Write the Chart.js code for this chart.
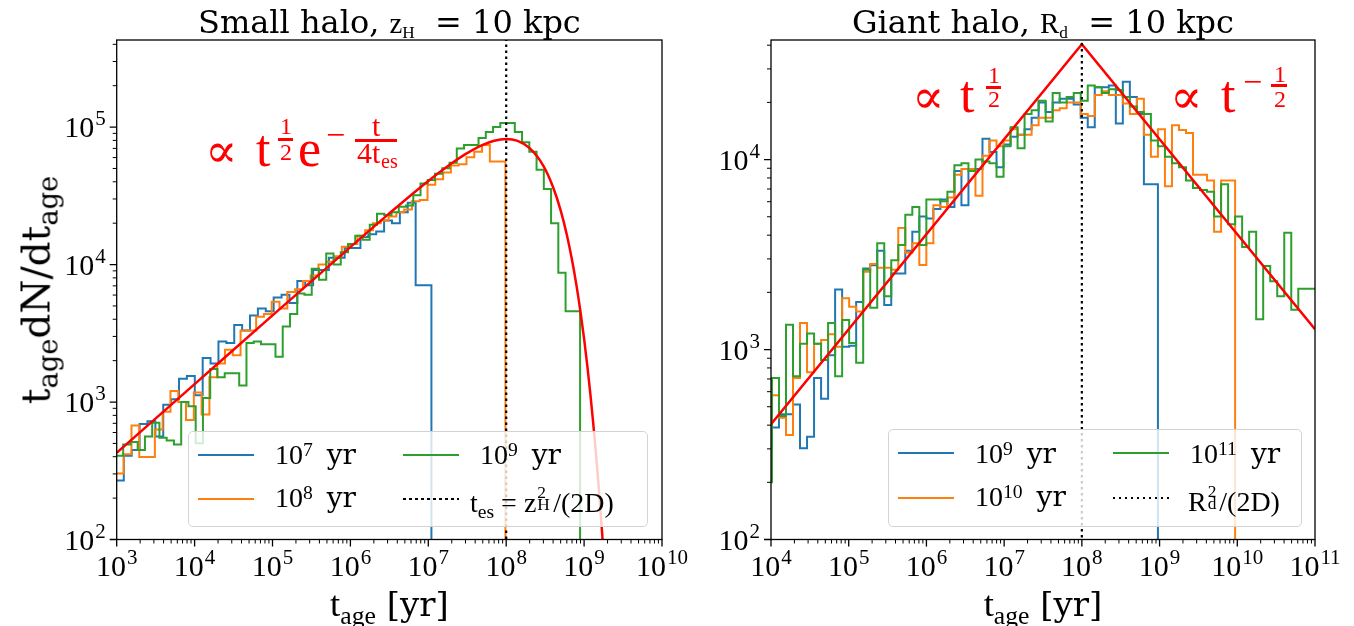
<!DOCTYPE html>
<html>
<head>
<meta charset="utf-8">
<title>Age distributions</title>
<script src="https://cdn.jsdelivr.net/npm/chart.js@4.4.1/dist/chart.umd.min.js"></script>
<style>
  body { margin: 0; background: #fff; }
  #wrap { position: relative; width: 1354px; height: 626px; overflow: hidden; font-family: 'DejaVu Serif', serif; color: #000; }
  canvas { position: absolute; top: 0; }
  .txt { position: absolute; white-space: nowrap; line-height: 1; }
  .m { font-family: 'Liberation Serif', 'DejaVu Serif', serif; }
  .sb { font-size: 0.7em; position: relative; top: 0.3em; }
  .sp { font-size: 0.7em; position: relative; top: -0.45em; }
  .red { color: #ff0000; }
  .box { position: absolute; border: 1px solid #d3d3d3; border-radius: 5px; background: rgba(255,255,255,0.8); box-sizing: border-box; }
  .swatch { position: absolute; width: 56px; height: 2px; }
  .dots { background: repeating-linear-gradient(90deg, #000 0 2.5px, transparent 2.5px 6px); }
  .bar { position: absolute; background: #ff0000; height: 2.5px; }
</style>
</head>
<body>
<div id="wrap">
  <canvas id="leftChart" width="720" height="626" style="left:0"></canvas>
  <canvas id="rightChart" width="677" height="626" style="left:677px"></canvas>
</div>
<script>
// histograms: log10 of first bin edge, bin width in dex, and counts per bin
const leftBlueStart = 2.99, leftBlueWidth = 0.10125;
const leftBlue = [195, 269, 407, 447, 692, 724, 562, 955, 1047, 1479, 1549, 1122, 2089, 1905, 2754,
  2692, 3631, 3311, 4266, 4786, 4571, 5754, 6026, 5248, 7586, 7079, 9120, 9120, 11220, 11220,
  13180, 13180, 15850, 16600, 17380, 20890, 19950, 23990, 28180, 7079];

const leftOrangeStart = 2.99, leftOrangeWidth = 0.1;
const leftOrange = [135, 302, 417, 676, 398, 398, 631, 851, 1202, 1000, 741, 1175, 813, 1514, 1905,
  2399, 2188, 3311, 3311, 4169, 4365, 5370, 4786, 6310, 6607, 7586, 8318, 10000, 10470, 11480,
  13490, 14130, 16220, 17780, 19950, 20890, 22390, 23990, 25120, 28840, 29510, 38020, 41690, 46770, 52480,
  53700, 60260, 66070, 74130, 56230];

const leftGreenStart = 2.99, leftGreenWidth = 0.0931;
const leftGreen = [224, 407, 490, 513, 447, 562, 708, 550, 525, 490, 1000, 933, 501, 1072, 1738,
  1514, 1622, 1622, 1318, 2692, 2754, 2630, 2630, 2138, 3548, 4365, 6166, 6026, 9333, 7762,
  12020, 10000, 12300, 14130, 16220, 15140, 19500, 23440, 22910, 23990, 26300, 26920, 31990, 38900, 41210,
  45710, 50120, 54950, 69980, 74130, 74130, 83180, 92260, 100000, 107200, 107200, 92260, 77620, 66070, 48980,
  35480, 19950, 8710, 4571];

const rightStart = 3.922, rightWidth = 0.0903;
const rightBlue = [389, 309, 389, 457, 457, 513, 302, 347, 708, 550, 933, 2070, 1035, 1047, 1778,
  2673, 2780, 3311, 1714, 2512, 2512, 3311, 4169, 5012, 4898, 5495, 6166, 5623, 8710, 5754,
  8710, 8913, 12880, 10960, 9120, 12020, 13180, 13490, 14450, 16600, 19950, 17780, 19950, 20890, 20890,
  19500, 16600, 14790, 23990, 23990, 24550, 15490, 25700, 21380, 17380, 7413];
const rightOrange = [389, 389, 575, 437, 355, 708, 1380, 759, 1072, 1122, 1202, 1035, 1862, 1679, 1585,
  2570, 2818, 2692, 2692, 2630, 4365, 3236, 3631, 2786, 3631, 5754, 5623, 6310, 8318, 8913,
  8913, 6457, 10470, 12590, 11750, 12590, 14450, 13490, 13490, 15140, 16600, 16600, 18200, 18620, 19950,
  19950, 17380, 16980, 21880, 22910, 21880, 21880, 19720, 17380, 20890, 13490, 10350, 14450, 7244, 15140,
  14290, 13800, 8318, 8318, 7762, 4169, 7762];
const rightGreen = [302, 200, 708, 447, 1349, 724, 1072, 1216, 1072, 881, 1380, 724, 1429, 1084, 851,
  2630, 1660, 3631, 1905, 2951, 3548, 5129, 5623, 3548, 6166, 6166, 6026, 6761, 9333, 9550,
  8710, 10000, 9772, 9550, 8128, 11750, 14790, 11480, 17380, 18200, 20420, 15850, 22390, 19950, 21380,
  22390, 20420, 24550, 23990, 22390, 23440, 23230, 21380, 19050, 17780, 17380, 12590, 11750, 10350, 9550,
  9120, 7762, 7079, 6918, 6761, 5012, 7413, 4571, 5012, 3467, 4169, 1445, 2754, 2291, 1905,
  4121, 1622, 2089, 2089];

// red model curves
const leftFitT = [1e3, 1e4, 1e5, 1e6, 3e6, 1e7, 2e7, 3e7, 5e7, 7e7, 1e8, 1.4e8, 2e8, 3e8, 4e8,
  5e8, 6e8, 7e8, 8e8, 9e8, 1e9, 1.1e9, 1.2e9, 1.3e9, 1.4e9, 1.5e9, 1.6e9, 1.7e9, 1.8e9];
const leftFitN = [427, 1350, 4270, 13400, 23000, 40600, 54600, 63600, 74300, 79600, 81900, 79300, 70200, 52200, 36500,
  24800, 16500, 10800, 7000, 4500, 2880, 1830, 1160, 732, 461, 289, 181, 113, 71];
const rightFitT = [1e4, 1e8, 1e11];
const rightFitN = [405, 40500, 1280];

const tEs = 1e8;          // t_es = z_H^2/(2D)
const tDiff = 1e8;        // R_d^2/(2D)

const leftXTicks = [1e3, 1e4, 1e5, 1e6, 1e7, 1e8, 1e9, 1e10];
const leftYTicks = [1e2, 1e3, 1e4, 1e5];
const rightXTicks = [1e4, 1e5, 1e6, 1e7, 1e8, 1e9, 1e10, 1e11];
const rightYTicks = [1e2, 1e3, 1e4];

const BLUE = '#1f77b4', ORANGE = '#ff7f0e', GREEN = '#2ca02c', RED = '#ff0000';
const BASE = 1;   // below the y range, so edges drop off the axes

function stepPoints(start, width, vals) {
  const pts = [{ x: Math.pow(10, start), y: BASE }];
  vals.forEach((v, i) => pts.push({ x: Math.pow(10, start + i * width), y: v }));
  const end = Math.pow(10, start + vals.length * width);
  pts.push({ x: end, y: vals[vals.length - 1] }, { x: end, y: BASE });
  return pts;
}

function pairs(xs, ys) {
  return xs.map((x, i) => ({ x: x, y: ys[i] }));
}

function histSet(pts, color, order) {
  return { data: pts, borderColor: color, borderWidth: 2, stepped: 'after', pointRadius: 0, fill: false, order: order };
}

function minors(min, max) {
  const out = [];
  for (let d = Math.floor(Math.log10(min)); d <= Math.ceil(Math.log10(max)); d++) {
    for (let m = 2; m <= 9; m++) {
      const v = m * Math.pow(10, d);
      if (v >= min && v <= max) out.push(v);
    }
  }
  return out;
}

function powLabel(ctx, v, x, y, align) {
  const exp = String(Math.round(Math.log10(v)));
  ctx.font = '30px "Liberation Serif"';
  const w1 = ctx.measureText('10').width;
  ctx.font = '21px "Liberation Serif"';
  const w2 = ctx.measureText(exp).width;
  const total = w1 + 1 + w2;
  const left = align === 'center' ? x - total / 2 : x - total;
  ctx.font = '30px "Liberation Serif"';
  ctx.fillText('10', left, y);
  ctx.font = '21px "Liberation Serif"';
  ctx.fillText(exp, left + w1 + 1, y - 12);
}

// frame, tick marks and tick labels, placed through the chart's scales
function decor(xTicks, yTicks) {
  return {
    id: 'decor',
    afterDatasetsDraw(chart) {
      const { ctx, chartArea: a, scales: { x, y } } = chart;
      ctx.save();
      ctx.strokeStyle = '#000';
      ctx.fillStyle = '#000';
      ctx.lineWidth = 1.3;
      ctx.strokeRect(a.left, a.top, a.right - a.left, a.bottom - a.top);

      const tick = (len, width, list, horiz) => {
        ctx.lineWidth = width;
        ctx.beginPath();
        list.forEach(v => {
          if (horiz) {
            const px = x.getPixelForValue(v);
            ctx.moveTo(px, a.bottom); ctx.lineTo(px, a.bottom + len);
          } else {
            const py = y.getPixelForValue(v);
            ctx.moveTo(a.left, py); ctx.lineTo(a.left - len, py);
          }
        });
        ctx.stroke();
      };
      tick(7, 1.3, xTicks, true);
      tick(4, 1.0, minors(x.min, x.max), true);
      tick(7, 1.3, yTicks, false);
      tick(4, 1.0, minors(y.min, y.max), false);

      ctx.textBaseline = 'alphabetic';
      ctx.textAlign = 'left';
      xTicks.forEach(v => powLabel(ctx, v, x.getPixelForValue(v), a.bottom + 36, 'center'));
      yTicks.forEach(v => powLabel(ctx, v, a.left - 11, y.getPixelForValue(v) + 10, 'right'));
      ctx.restore();
    }
  };
}

function makeChart(id, datasets, xr, yr, yWidth, padRight, xTicks, yTicks) {
  return new Chart(document.getElementById(id), {
    type: 'line',
    data: { datasets: datasets },
    options: {
      responsive: false,
      animation: false,
      events: [],
      layout: { padding: { left: 0, right: padRight, top: 40, bottom: 0 } },
      plugins: { legend: { display: false }, tooltip: { enabled: false } },
      elements: { point: { radius: 0 } },
      scales: {
        x: {
          type: 'logarithmic', min: xr[0], max: xr[1],
          grid: { display: false }, border: { display: false }, ticks: { display: false },
          afterFit: s => { s.height = 86.5; }
        },
        y: {
          type: 'logarithmic', min: yr[0], max: yr[1],
          grid: { display: false }, border: { display: false }, ticks: { display: false },
          afterFit: s => { s.width = yWidth; }
        }
      }
    },
    plugins: [decor(xTicks, yTicks)]
  });
}

makeChart('leftChart', [
  { data: [{ x: tEs, y: 10 }, { x: tEs, y: 1e7 }], borderColor: '#000', borderWidth: 2.2, borderDash: [2.5, 3.5], pointRadius: 0, order: 0 },
  { data: pairs(leftFitT, leftFitN), borderColor: RED, borderWidth: 2.5, cubicInterpolationMode: 'monotone', pointRadius: 0, order: 1 },
  histSet(stepPoints(leftGreenStart, leftGreenWidth, leftGreen), GREEN, 2),
  histSet(stepPoints(leftOrangeStart, leftOrangeWidth, leftOrange), ORANGE, 3),
  histSet(stepPoints(leftBlueStart, leftBlueWidth, leftBlue), BLUE, 4)
], [1e3, 1e10], [100, 4.3e5], 116.7, 58, leftXTicks, leftYTicks);

makeChart('rightChart', [
  { data: [{ x: tDiff, y: 10 }, { x: tDiff, y: 1e7 }], borderColor: '#000', borderWidth: 2.2, borderDash: [2.5, 3.5], pointRadius: 0, order: 0 },
  { data: pairs(rightFitT, rightFitN), borderColor: RED, borderWidth: 2.5, pointRadius: 0, order: 1 },
  histSet(stepPoints(rightStart, rightWidth, rightGreen), GREEN, 2),
  histSet(stepPoints(rightStart, rightWidth, rightOrange), ORANGE, 3),
  histSet(stepPoints(rightStart, rightWidth, rightBlue), BLUE, 4)
], [1e4, 1e11], [100, 4.26e4], 94, 39, rightXTicks, rightYTicks);

// ---- text overlays ----
const wrap = document.getElementById('wrap');

function put(html, x, base, size, opt) {
  opt = opt || {};
  const d = document.createElement('div');
  d.className = 'txt' + (opt.cls ? ' ' + opt.cls : '');
  d.style.fontSize = size + 'px';
  d.style.left = x + 'px';
  d.style.top = (base - 0.84 * size) + 'px';
  if (opt.center) d.style.transform = 'translateX(-50%)';
  d.innerHTML = html;
  wrap.appendChild(d);
  return d;
}

function el(cls, left, top, w, h, bg) {
  const d = document.createElement('div');
  d.className = cls;
  d.style.left = left + 'px';
  d.style.top = top + 'px';
  if (w != null) d.style.width = w + 'px';
  if (h != null) d.style.height = h + 'px';
  if (bg) d.style.background = bg;
  wrap.appendChild(d);
  return d;
}

function supsub(sup, sub, w) {
  return '<span style="display:inline-block;position:relative;width:' + w + 'em;height:1em">' +
    '<span style="position:absolute;left:1px;top:-0.05em;font-size:0.62em">' + sup + '</span>' +
    '<span style="position:absolute;left:1px;top:0.66em;font-size:0.62em">' + sub + '</span></span>';
}

function pow(e) {
  return '<span class="m">10<span class="sp">' + e + '</span></span><span style="margin-left:14px">yr</span>';
}

// titles
put('Small halo, <span class="m" style="font-size:0.9em">z<span class="sb" style="font-size:0.6em">H</span></span>&nbsp; = 10 kpc', 389.4, 33, 32, { center: true });
put('Giant halo, <span class="m" style="font-size:0.9em">R<span class="sb" style="font-size:0.6em">d</span></span>&nbsp; = 10 kpc', 1043, 33, 32, { center: true });

// axis labels
const xlab = '<span class="m" style="font-size:1.08em">t<span class="sb">age</span></span> [yr]';
put(xlab, 389.4, 615, 34, { center: true });
put(xlab, 1043, 615, 34, { center: true });
const ylab = put('t<span class="sb">age</span>dN/dt<span class="sb">age</span>', 36, 300, 39);
ylab.style.top = '290px';
ylab.style.transform = 'translate(-50%,-50%) rotate(-90deg)';

// red annotations, left panel
put('∝', 205, 167, 48, { cls: 'm red' });
put('t', 256, 167, 52, { cls: 'm red' });
put('1', 280, 134, 24, { cls: 'm red' });
el('bar', 278, 138, 15);
put('2', 280, 160, 24, { cls: 'm red' });
put('e', 298, 167, 52, { cls: 'm red' });
put('−', 326, 147, 34, { cls: 'm red' });
put('t', 372, 136, 30, { cls: 'm red' });
el('bar', 355, 139, 42);
put('4t', 357, 163, 30, { cls: 'm red' });
put('es', 381, 168, 20, { cls: 'm red' });

// red annotations, right panel
put('∝', 912, 113, 48, { cls: 'm red' });
put('t', 960, 113, 52, { cls: 'm red' });
put('1', 988, 83, 24, { cls: 'm red' });
el('bar', 986, 86, 15);
put('2', 988, 107, 24, { cls: 'm red' });

put('∝', 1170, 113, 48, { cls: 'm red' });
put('t', 1221, 113, 52, { cls: 'm red' });
put('−', 1243, 94, 34, { cls: 'm red' });
put('1', 1274, 82, 24, { cls: 'm red' });
el('bar', 1271, 84, 16);
put('2', 1274, 107, 24, { cls: 'm red' });

// legends
el('box', 188, 431, 460, 96);
el('swatch', 198, 454, null, null, BLUE);
el('swatch', 198, 498, null, null, ORANGE);
el('swatch', 403, 454, null, null, GREEN);
el('swatch dots', 403, 498);
put(pow(7), 275, 465, 28);
put(pow(8), 275, 508, 28);
put(pow(9), 480, 465, 28);
put('<span class="m">t<span class="sb">es</span> = z' + supsub('2', 'H', 0.6) + '/(2D)</span>', 470, 508, 28);

el('box', 888, 429, 414, 98);
el('swatch', 898, 452, null, null, BLUE);
el('swatch', 898, 497, null, null, ORANGE);
el('swatch', 1113, 452, null, null, GREEN);
el('swatch dots', 1113, 497);
put(pow(9), 975, 464, 28);
put(pow(10), 975, 507, 28);
put(pow(11), 1190, 464, 28);
put('<span class="m">R' + supsub('2', 'd', 0.45) + '/(2D)</span>', 1188, 507, 28);
</script>
</body>
</html>
